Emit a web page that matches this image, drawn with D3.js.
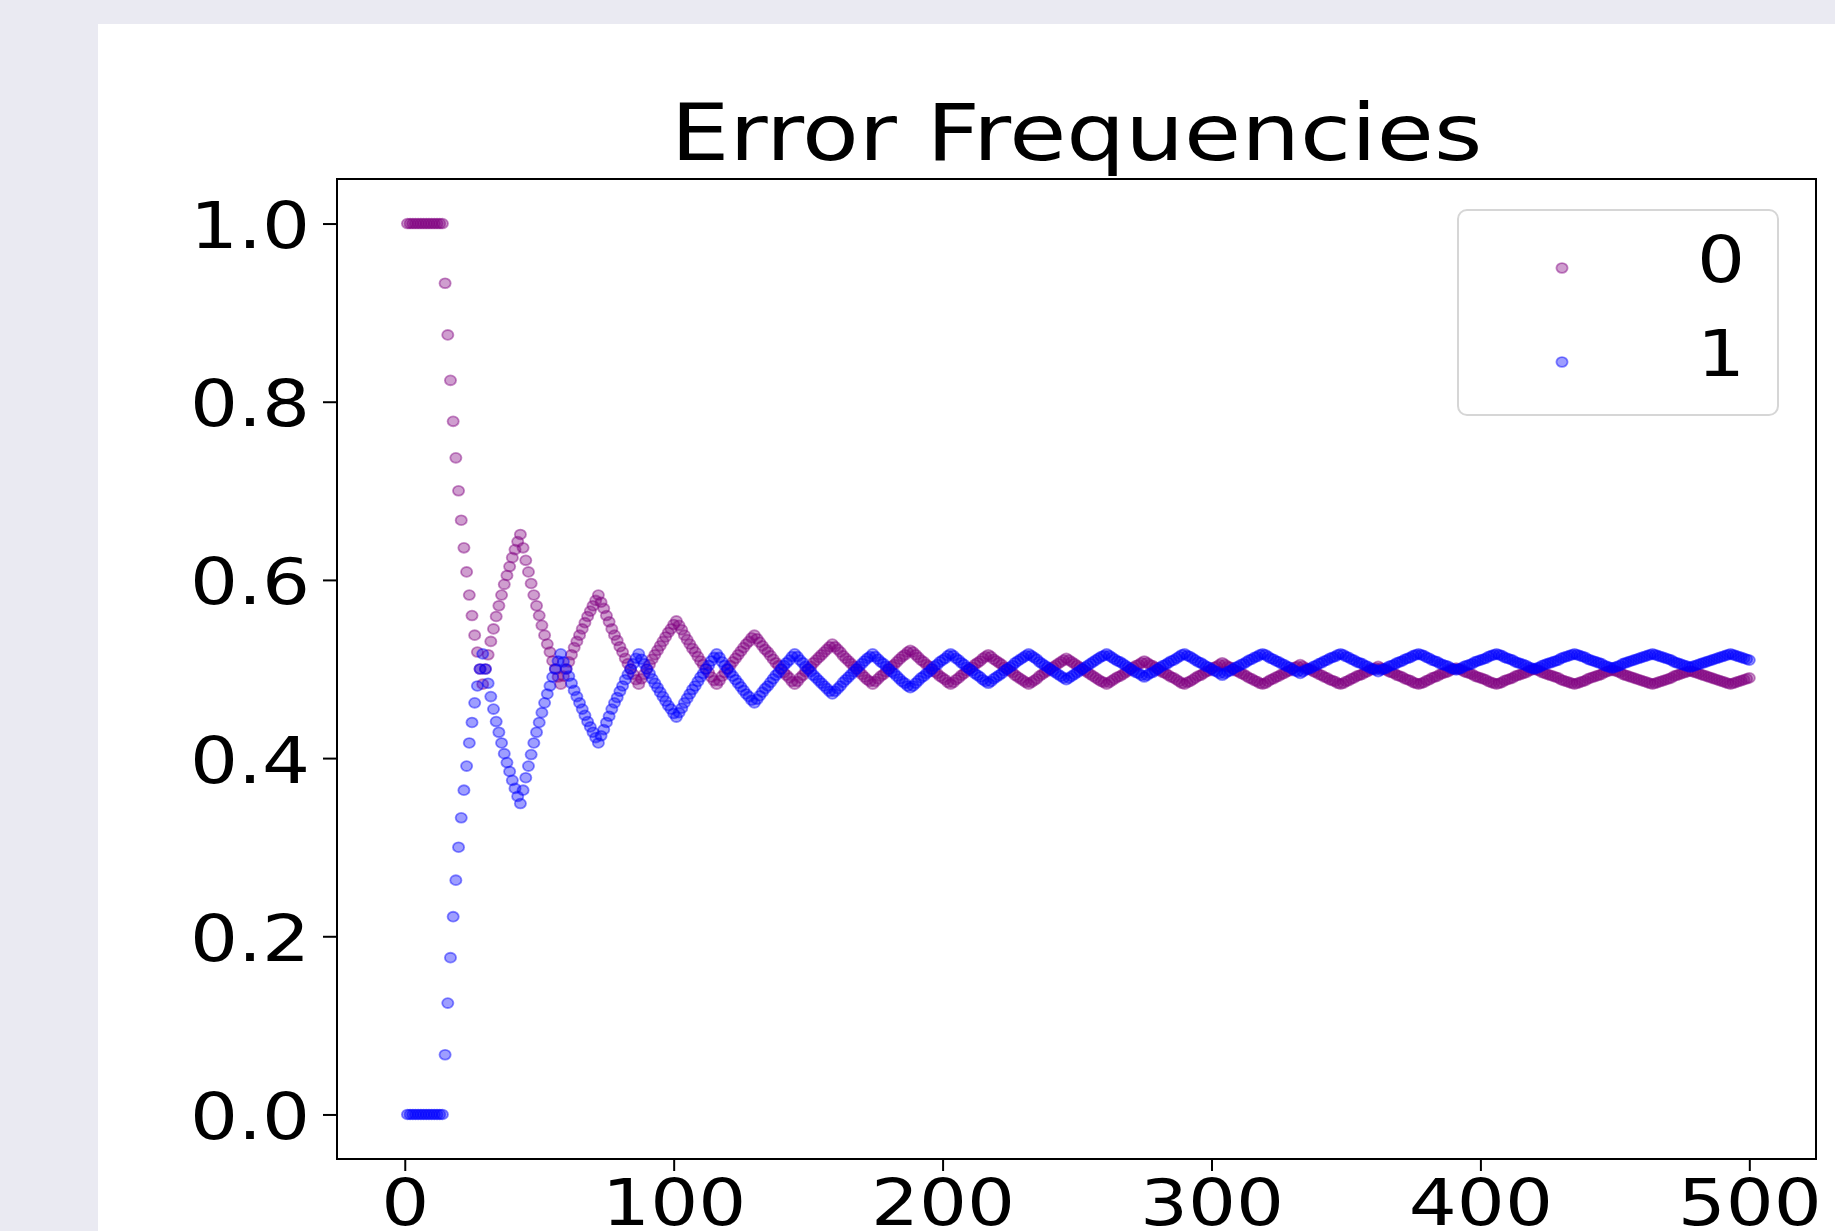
<!DOCTYPE html>
<html>
<head>
<meta charset="utf-8">
<style>

html, body {
  margin: 0;
  padding: 0;
  background: #eaeaf2;
  overflow: hidden;
}

svg {
  display: block;
}

text {
  font-family: "DejaVu Sans", sans-serif;
  fill: #000;
}

</style>
<script src="https://cdnjs.cloudflare.com/ajax/libs/d3/7.8.5/d3.min.js"></script>
</head>
<body>
<svg id="chart" width="1835" height="1231"></svg>
<script>
var title = "Error Frequencies";
var seriesNames = ["0", "1"];
var seriesColors = ["purple", "blue"];
var xTicks = [0, 100, 200, 300, 400, 500];
var yTicks = [0.0, 0.2, 0.4, 0.6, 0.8, 1.0];
var steps = d3.range(1, 501);

// running frequency of label 0, one value per step
var freq0 = [
  1,1,1,1,1,1,1,1,1,1,1,1,1,1,
  0.933,0.875,0.824,0.778,0.737,0.700,0.667,0.636,0.609,0.583,0.560,0.538,0.519,0.500,0.483,
  0.500,0.516,0.531,0.545,0.559,0.571,0.583,0.595,0.605,0.615,0.625,0.634,0.643,0.651,
  0.636,0.622,0.609,0.596,0.583,0.571,0.560,0.549,0.538,0.528,0.519,0.509,0.500,0.491,0.483,
  0.492,0.500,0.508,0.516,0.524,0.531,0.538,0.545,0.552,0.559,0.565,0.571,0.577,0.583,
  0.575,0.568,0.560,0.553,0.545,0.538,0.532,0.525,0.519,0.512,0.506,0.500,0.494,0.488,0.483,
  0.489,0.494,0.500,0.505,0.511,0.516,0.521,0.526,0.531,0.536,0.541,0.545,0.550,0.554,
  0.549,0.544,0.538,0.533,0.528,0.523,0.519,0.514,0.509,0.505,0.500,0.496,0.491,0.487,0.483,
  0.487,0.492,0.496,0.500,0.504,0.508,0.512,0.516,0.520,0.524,0.528,0.531,0.535,0.538,
  0.534,0.530,0.526,0.522,0.519,0.515,0.511,0.507,0.504,0.500,0.496,0.493,0.490,0.486,0.483,
  0.486,0.490,0.493,0.497,0.500,0.503,0.507,0.510,0.513,0.516,0.519,0.522,0.525,0.528,
  0.525,0.522,0.519,0.515,0.512,0.509,0.506,0.503,0.500,0.497,0.494,0.491,0.488,0.486,0.483,
  0.486,0.489,0.492,0.494,0.497,0.500,0.503,0.505,0.508,0.511,0.514,0.516,0.519,0.521,
  0.519,0.516,0.513,0.510,0.508,0.505,0.503,0.500,0.497,0.495,0.492,0.490,0.488,0.485,0.483,
  0.485,0.488,0.490,0.493,0.495,0.498,0.500,0.502,0.505,0.507,0.509,0.512,0.514,0.516,
  0.514,0.511,0.509,0.507,0.505,0.502,0.500,0.498,0.496,0.493,0.491,0.489,0.487,0.485,0.483,
  0.485,0.487,0.489,0.492,0.494,0.496,0.498,0.500,0.502,0.504,0.506,0.508,0.510,0.512,
  0.510,0.508,0.506,0.504,0.502,0.500,0.498,0.496,0.494,0.492,0.490,0.488,0.486,0.485,0.483,
  0.485,0.487,0.489,0.491,0.492,0.494,0.496,0.498,0.500,0.502,0.504,0.505,0.507,0.509,
  0.507,0.505,0.504,0.502,0.500,0.498,0.496,0.495,0.493,0.491,0.490,0.488,0.486,0.484,0.483,
  0.485,0.486,0.488,0.490,0.492,0.493,0.495,0.497,0.498,0.500,0.502,0.503,0.505,0.507,
  0.505,0.503,0.502,0.500,0.498,0.497,0.495,0.494,0.492,0.490,0.489,0.487,0.486,0.484,0.483,
  0.484,0.486,0.488,0.489,0.491,0.492,0.494,0.495,0.497,0.498,0.500,0.502,0.503,0.505,
  0.503,0.501,0.500,0.499,0.497,0.496,0.494,0.493,0.491,0.490,0.488,0.487,0.486,0.484,0.483,
  0.484,0.486,0.487,0.489,0.490,0.492,0.493,0.494,0.496,0.497,0.499,0.500,0.501,0.503,
  0.501,0.500,0.499,0.497,0.496,0.495,0.493,0.492,0.491,0.489,0.488,0.487,0.485,0.484,0.483,
  0.484,0.485,0.487,0.488,0.490,0.491,0.492,0.494,0.495,0.496,0.497,0.499,0.500,0.501,
  0.500,0.499,0.497,0.496,0.495,0.494,0.492,0.491,0.490,0.489,0.488,0.486,0.485,0.484,0.483,
  0.484,0.485,0.487,0.488,0.489,0.490,0.492,0.493,0.494,0.495,0.496,0.498,0.499,0.500,
  0.499,0.498,0.496,0.495,0.494,0.493,0.492,0.491,0.490,0.488,0.487,0.486,0.485,0.484,0.483,
  0.484,0.485,0.486,0.487,0.489,0.490,0.491,0.492,0.493,0.494,0.496,0.497,0.498,0.499,
  0.498,0.497,0.496,0.494,0.493,0.492,0.491,0.490,0.489,0.488,0.487,0.486,0.485,0.484,0.483,
  0.484,0.485,0.486,0.487,0.488,0.489,0.490,0.492,0.493,0.494,0.495,0.496,0.497,0.498,
  0.497,0.496,0.495,0.494,0.493,0.492,0.491,0.490,0.489,0.488,0.487,0.486,0.485,0.484,0.483,
  0.484,0.485,0.486,0.487,0.488,0.489,0.490
];

// running frequency of label 1, one value per step
var freq1 = [
  0,0,0,0,0,0,0,0,0,0,0,0,0,0,
  0.067,0.125,0.176,0.222,0.263,0.300,0.333,0.364,0.391,0.417,0.440,0.462,0.481,0.500,0.517,
  0.500,0.484,0.469,0.455,0.441,0.429,0.417,0.405,0.395,0.385,0.375,0.366,0.357,0.349,
  0.364,0.378,0.391,0.404,0.417,0.429,0.440,0.451,0.462,0.472,0.481,0.491,0.500,0.509,0.517,
  0.508,0.500,0.492,0.484,0.476,0.469,0.462,0.455,0.448,0.441,0.435,0.429,0.423,0.417,
  0.425,0.432,0.440,0.447,0.455,0.462,0.468,0.475,0.481,0.488,0.494,0.500,0.506,0.512,0.517,
  0.511,0.506,0.500,0.495,0.489,0.484,0.479,0.474,0.469,0.464,0.459,0.455,0.450,0.446,
  0.451,0.456,0.462,0.467,0.472,0.477,0.481,0.486,0.491,0.495,0.500,0.504,0.509,0.513,0.517,
  0.513,0.508,0.504,0.500,0.496,0.492,0.488,0.484,0.480,0.476,0.472,0.469,0.465,0.462,
  0.466,0.470,0.474,0.478,0.481,0.485,0.489,0.493,0.496,0.500,0.504,0.507,0.510,0.514,0.517,
  0.514,0.510,0.507,0.503,0.500,0.497,0.493,0.490,0.487,0.484,0.481,0.478,0.475,0.472,
  0.475,0.478,0.481,0.485,0.488,0.491,0.494,0.497,0.500,0.503,0.506,0.509,0.512,0.514,0.517,
  0.514,0.511,0.508,0.506,0.503,0.500,0.497,0.495,0.492,0.489,0.486,0.484,0.481,0.479,
  0.481,0.484,0.487,0.490,0.492,0.495,0.497,0.500,0.503,0.505,0.508,0.510,0.512,0.515,0.517,
  0.515,0.512,0.510,0.507,0.505,0.502,0.500,0.498,0.495,0.493,0.491,0.488,0.486,0.484,
  0.486,0.489,0.491,0.493,0.495,0.498,0.500,0.502,0.504,0.507,0.509,0.511,0.513,0.515,0.517,
  0.515,0.513,0.511,0.508,0.506,0.504,0.502,0.500,0.498,0.496,0.494,0.492,0.490,0.488,
  0.490,0.492,0.494,0.496,0.498,0.500,0.502,0.504,0.506,0.508,0.510,0.512,0.514,0.515,0.517,
  0.515,0.513,0.511,0.509,0.508,0.506,0.504,0.502,0.500,0.498,0.496,0.495,0.493,0.491,
  0.493,0.495,0.496,0.498,0.500,0.502,0.504,0.505,0.507,0.509,0.510,0.512,0.514,0.516,0.517,
  0.515,0.514,0.512,0.510,0.508,0.507,0.505,0.503,0.502,0.500,0.498,0.497,0.495,0.493,
  0.495,0.497,0.498,0.500,0.502,0.503,0.505,0.506,0.508,0.510,0.511,0.513,0.514,0.516,0.517,
  0.516,0.514,0.512,0.511,0.509,0.508,0.506,0.505,0.503,0.502,0.500,0.498,0.497,0.495,
  0.497,0.499,0.500,0.501,0.503,0.504,0.506,0.507,0.509,0.510,0.512,0.513,0.514,0.516,0.517,
  0.516,0.514,0.513,0.511,0.510,0.508,0.507,0.506,0.504,0.503,0.501,0.500,0.499,0.497,
  0.499,0.500,0.501,0.503,0.504,0.505,0.507,0.508,0.509,0.511,0.512,0.513,0.515,0.516,0.517,
  0.516,0.515,0.513,0.512,0.510,0.509,0.508,0.506,0.505,0.504,0.503,0.501,0.500,0.499,
  0.500,0.501,0.503,0.504,0.505,0.506,0.508,0.509,0.510,0.511,0.512,0.514,0.515,0.516,0.517,
  0.516,0.515,0.513,0.512,0.511,0.510,0.508,0.507,0.506,0.505,0.504,0.502,0.501,0.500,
  0.501,0.502,0.504,0.505,0.506,0.507,0.508,0.509,0.510,0.512,0.513,0.514,0.515,0.516,0.517,
  0.516,0.515,0.514,0.513,0.511,0.510,0.509,0.508,0.507,0.506,0.504,0.503,0.502,0.501,
  0.502,0.503,0.504,0.506,0.507,0.508,0.509,0.510,0.511,0.512,0.513,0.514,0.515,0.516,0.517,
  0.516,0.515,0.514,0.513,0.512,0.511,0.510,0.508,0.507,0.506,0.505,0.504,0.503,0.502,
  0.503,0.504,0.505,0.506,0.507,0.508,0.509,0.510,0.511,0.512,0.513,0.514,0.515,0.516,0.517,
  0.516,0.515,0.514,0.513,0.512,0.511,0.510
];

var W = 1835, H = 1231;
var plot = {left: 337, top: 179, right: 1816, bottom: 1159};
var stretch = 1.18; // the picture is a bit wider than tall

var svg = d3.select("#chart");

svg.append("rect")
    .attr("width", W).attr("height", H)
    .attr("fill", "#eaeaf2");
svg.append("rect")
    .attr("x", 98).attr("y", 24)
    .attr("width", W - 98).attr("height", H - 24)
    .attr("fill", "#ffffff");

var x = d3.scaleLinear().domain([-25.2, 524.8]).range([plot.left, plot.right]);
var y = d3.scaleLinear().domain([-0.05, 1.05]).range([plot.bottom, plot.top]);

// scatter series, 0 first so 1 lands on top
var series = [freq0, freq1].map(function(vals, i) {
  return {
    name: seriesNames[i],
    color: seriesColors[i],
    points: steps.map(function(s, j) { return {step: s, value: vals[j]}; })
  };
});

var dots = svg.append("g").attr("class", "dots");
series.forEach(function(s) {
  dots.append("g")
    .selectAll("ellipse")
    .data(s.points)
    .enter()
    .append("ellipse")
      .attr("cx", d => x(d.step))
      .attr("cy", d => y(d.value))
      .attr("rx", 5.6)
      .attr("ry", 4.9)
      .attr("fill", s.color)
      .attr("fill-opacity", 0.38)
      .attr("stroke", s.color)
      .attr("stroke-opacity", 0.45)
      .attr("stroke-width", 1.8);
});

// axes
var yAxis = svg.append("g")
    .attr("transform", "translate(" + plot.left + ",0)")
    .call(d3.axisLeft(y).tickValues(yTicks).tickFormat(d3.format(".1f")).tickSize(14));
yAxis.attr("font-size", 64).attr("font-family", "DejaVu Sans");
yAxis.select(".domain").remove();
yAxis.selectAll(".tick line").attr("stroke", "#000").attr("stroke-width", 2);
yAxis.selectAll(".tick text")
    .attr("x", null).attr("dy", null)
    .attr("transform", "translate(-27,24) scale(" + stretch + ",1)");

var xAxis = svg.append("g")
    .attr("transform", "translate(0," + plot.bottom + ")")
    .call(d3.axisBottom(x).tickValues(xTicks).tickFormat(d3.format("d")).tickSize(12));
xAxis.attr("font-size", 64).attr("font-family", "DejaVu Sans");
xAxis.select(".domain").remove();
xAxis.selectAll(".tick line").attr("stroke", "#000").attr("stroke-width", 2);
xAxis.selectAll(".tick text")
    .attr("y", null).attr("dy", null)
    .attr("transform", "translate(0,66) scale(" + stretch + ",1)");

svg.append("rect")
    .attr("x", plot.left).attr("y", plot.top)
    .attr("width", plot.right - plot.left)
    .attr("height", plot.bottom - plot.top)
    .attr("fill", "none")
    .attr("stroke", "#000")
    .attr("stroke-width", 2);

svg.append("text")
    .attr("text-anchor", "middle")
    .attr("font-size", 78)
    .attr("transform", "translate(" + ((plot.left + plot.right) / 2) + ",160) scale(1.19,1)")
    .text(title);

// legend
var legend = svg.append("g").attr("class", "legend");
legend.append("rect")
    .attr("x", 1458).attr("y", 210)
    .attr("width", 320).attr("height", 205)
    .attr("rx", 9)
    .attr("fill", "#fff")
    .attr("fill-opacity", 0.8)
    .attr("stroke", "#d6d6d6")
    .attr("stroke-width", 2);

var item = legend.selectAll("g.item")
    .data(series)
    .enter().append("g")
    .attr("class", "item")
    .attr("transform", (d, i) => "translate(0," + (268 + i * 94) + ")");

item.append("ellipse")
    .attr("cx", 1562).attr("cy", 0)
    .attr("rx", 5.6).attr("ry", 4.9)
    .attr("fill", d => d.color)
    .attr("fill-opacity", 0.38)
    .attr("stroke", d => d.color)
    .attr("stroke-opacity", 0.45)
    .attr("stroke-width", 1.8);

item.append("text")
    .attr("text-anchor", "end")
    .attr("font-size", 64)
    .attr("transform", "translate(1745,14) scale(" + stretch + ",1)")
    .text(d => d.name);
</script>
</body>
</html>
